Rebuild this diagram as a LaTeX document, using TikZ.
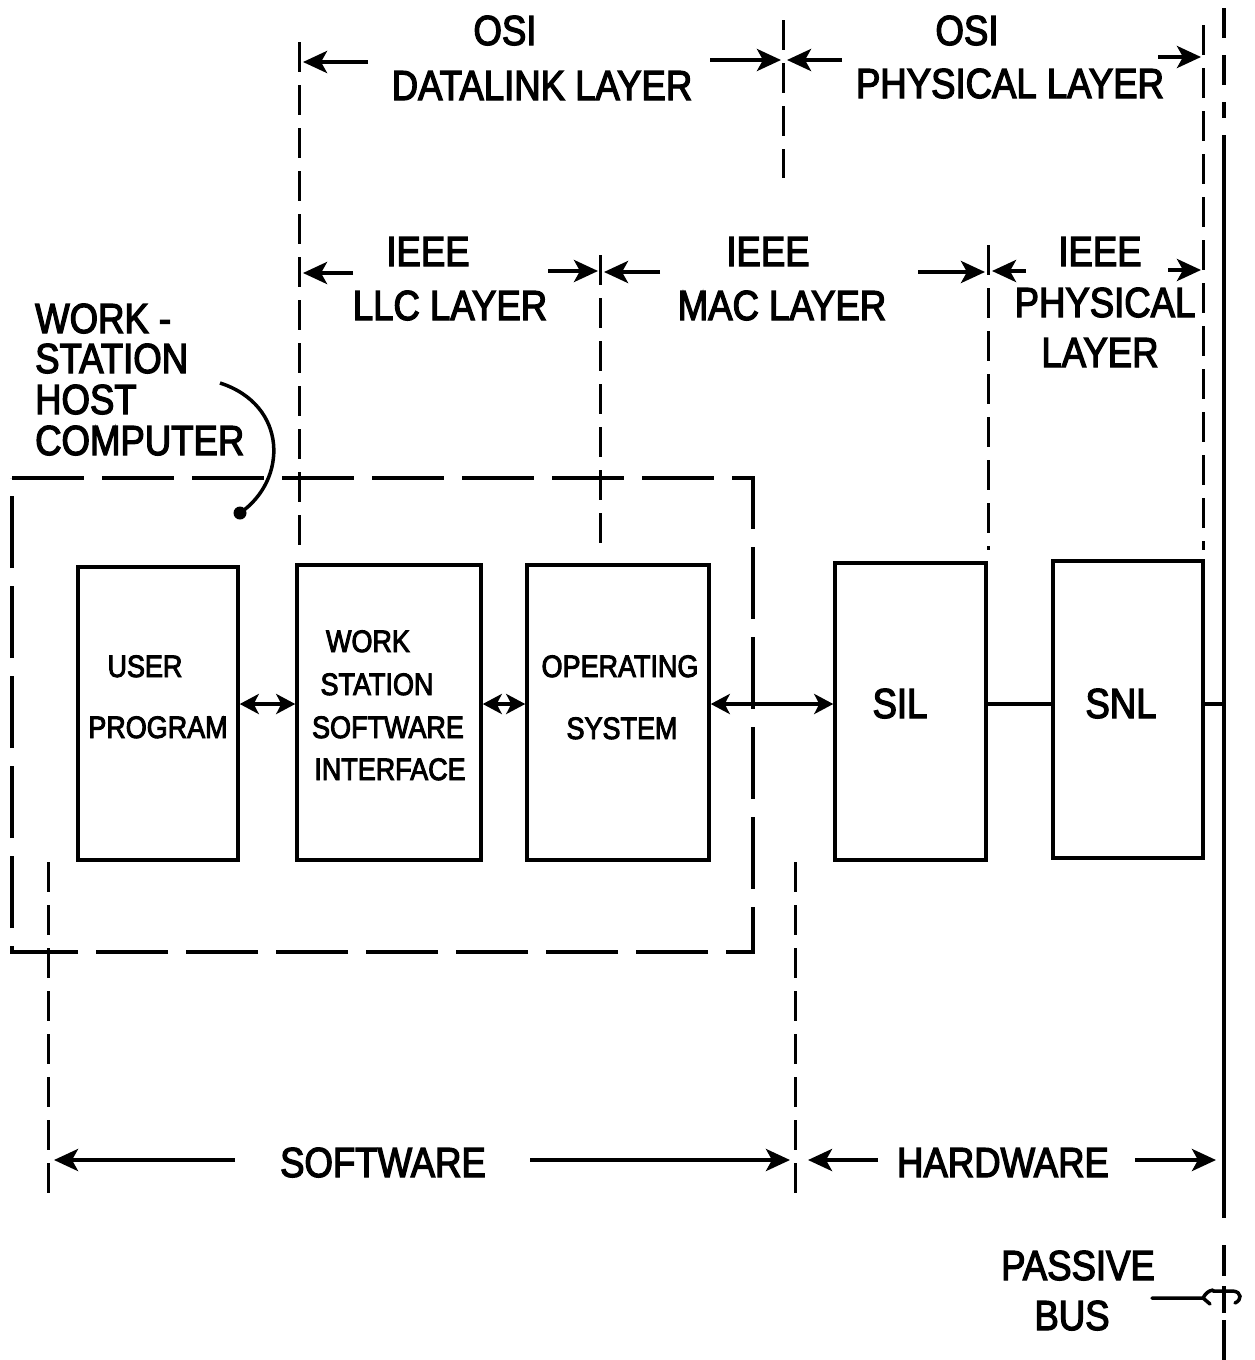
\documentclass[tikz,border=0pt]{standalone}
\usepackage{fontspec}
\setmainfont{Liberation Sans}[FakeStretch=0.87,FakeBold=3]
\usetikzlibrary{arrows.meta}
\tikzset{
  big/.style={font=\fontsize{42}{48}\selectfont, inner sep=0pt, anchor=base},
  bigl/.style={font=\fontsize{42}{48}\selectfont, inner sep=0pt, anchor=base west},
  small/.style={font=\fontsize{31}{36}\selectfont, inner sep=0pt, anchor=base},
  box/.style={draw, line width=3.5pt, inner sep=0pt},
  arr/.style={line width=4pt, -{Stealth[length=24pt,width=22pt,inset=6pt]}},
  dbl/.style={line width=4pt, {Stealth[length=19pt,width=20pt,inset=5pt]}-{Stealth[length=19pt,width=20pt,inset=5pt]}},
  guide/.style={line width=3pt, dash pattern=on 30pt off 13pt},
  hostbox/.style={line width=3.5pt, dash pattern=on 72pt off 18pt},
  wire/.style={line width=3.5pt}
}
\begin{document}
\begin{tikzpicture}[x=1pt,y=-1pt]
\useasboundingbox[fill=white] (0,0) rectangle (1254,1360);

% ---- guide lines ----
\draw[guide] (299,42) -- (299,552);
\draw[guide] (783,20) -- (783,178);
\draw[guide] (600,255) -- (600,555);
\draw[guide] (988,245) -- (988,550);
\draw[guide] (1203,25) -- (1203,550);
\draw[guide] (48,862) -- (48,1205);
\draw[guide] (795,862) -- (795,1196);
% bus line
\draw[wire, dash pattern=on 30pt off 17pt] (1224,8) -- (1224,118);
\draw[wire] (1224,135) -- (1224,1218);
\draw[wire] (1224,1245) -- (1224,1276);
\draw[wire] (1224,1320) -- (1224,1360);
\coordinate (busR) at (1224,703);

% ---- host computer box ----
\draw[hostbox] (12,478) -- (753,478) -- (753,952) -- (12,952) -- cycle;

% ---- blocks ----
\node[box, minimum width=160pt, minimum height=293pt] (up) at (158,713.5) {};
\node[box, minimum width=184pt, minimum height=295pt] (wssi) at (389,712.5) {};
\node[box, minimum width=182pt, minimum height=295pt] (os) at (618,712.5) {};
\node[box, minimum width=151pt, minimum height=297pt] (sil) at (910.5,711.5) {};
\node[box, minimum width=150pt, minimum height=297pt] (snl) at (1128,709.5) {};

\node[small] (t-user) at (145,677) {USER};
\node[small] (t-prog) at (158,738) {PROGRAM};
\node[small] (t-w1) at (368,652) {WORK};
\node[small] (t-w2) at (377,695) {STATION};
\node[small] (t-w3) at (388,738) {SOFTWARE};
\node[small] (t-w4) at (390,780) {INTERFACE};
\node[small] (t-os1) at (620,677) {OPERATING};
\node[small] (t-os2) at (622,739) {SYSTEM};
\node[big] (t-sil) at (900,718) {SIL};
\node[big] (t-snl) at (1121,718) {SNL};

% ---- block connections ----
\coordinate (rowy) at (0,704);
\draw[dbl] (up.east |- rowy) -- (wssi.west |- rowy);
\draw[dbl] (wssi.east |- rowy) -- (os.west |- rowy);
\draw[dbl] (os.east |- rowy) -- (sil.west |- rowy);
\draw[wire] (sil.east |- rowy) -- (snl.west |- rowy);
\draw[wire] (snl.east |- rowy) -- (busR |- rowy);

% ---- OSI labels ----
\node[big] (osi1) at (505,45) {OSI};
\node[big] (dll) at (542,100) {DATALINK LAYER};
\draw[arr] (368,62) -- (303,62);
\draw[arr] (710,60) -- (781,60);
\node[big] (osi2) at (967,45) {OSI};
\node[big] (opl) at (1010,98) {PHYSICAL LAYER};
\draw[arr] (842,60) -- (787,60);
\draw[arr] (1158,57) -- (1201,57);

% ---- IEEE labels ----
\node[big] (ieee1) at (428,266) {IEEE};
\node[big] (llc) at (450,320) {LLC LAYER};
\draw[arr] (353,273) -- (303,273);
\draw[arr] (548,271) -- (598,271);
\node[big] (ieee2) at (768,266) {IEEE};
\node[big] (mac) at (782,320) {MAC LAYER};
\draw[arr] (660,272) -- (604,272);
\draw[arr] (918,272) -- (985,272);
\node[big] (ieee3) at (1100,266) {IEEE};
\node[big] (iph1) at (1105,317) {PHYSICAL};
\node[big] (iph2) at (1100,367) {LAYER};
\draw[arr] (1026,271) -- (992,271);
\draw[arr] (1168,270) -- (1201,270);

% ---- workstation host computer ----
\node[bigl] (ws1) at (35,333) {WORK -};
\node[bigl] (ws2) at (35,373) {STATION};
\node[bigl] (ws3) at (35,414) {HOST};
\node[bigl] (ws4) at (35,455) {COMPUTER};
\coordinate (dot) at (240,513);
\draw[line width=3.5pt] (220,383) .. controls (288,405) and (288,480) .. (dot);
\fill (dot) circle (6.5pt);

% ---- software / hardware ----
\node[big] (sw) at (383,1177) {SOFTWARE};
\draw[arr] (235,1160) -- (54,1160);
\draw[arr] (530,1160) -- (790,1160);
\node[big] (hw) at (1003,1177) {HARDWARE};
\draw[arr] (878,1160) -- (808,1160);
\draw[arr] (1135,1160) -- (1216,1160);

% ---- passive bus ----
\node[big] (pb1) at (1078,1280) {PASSIVE};
\node[big] (pb2) at (1072,1330) {BUS};
\draw[wire, line cap=round] (1152,1298) -- (1203,1298) .. controls (1206,1293) and (1208,1291) .. (1213,1290);
\draw[wire, line cap=round] (1203,1298) -- (1210,1304);
\draw[wire, line cap=round] (1213,1291) -- (1233,1291) .. controls (1242,1292) and (1242,1300) .. (1235,1303);
\draw[wire] (1224,1286) -- (1224,1313);
\end{tikzpicture}
\end{document}
